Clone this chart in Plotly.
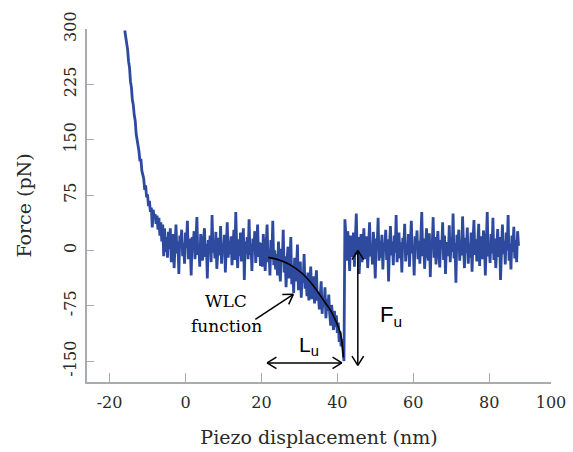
import numpy as np
import plotly.graph_objects as go

# ---------------- data ----------------
step = 0.25  # nm between samples

approach_x0 = -16.0
approach_f = [298, 290, 279, 272, 256, 248, 229, 221, 204, 197, 183, 176, 158, 151, 139, 134,
              121, 124, 108, 104, 97, 82, 88, 72, 76, 60, 67, 52, 58, 31, 55, 44, 49, 36, 47,
              28, 44, 20, 38, 12, 35, -8, 30, -2]

baseline_x0 = -5.0
baseline_f = [18, -10, 25, 2, 30, -16, 14, 22, -24, 9, 35, -4, 12, -32, 20, 6, 28, -8, 10, -18,
              24, 3, 40, -12, 16, 5, -34, 18, 1, 26, -12, 12, 45, -6, 8, -22, 22, 4, -14, 15,
              30, -9, 9, -38, 14, 2, 20, -16, 48, -3, 11, -11, 25, -25, 6, 17, -7, 33, -18, 8,
              -2, 21, -30, 10, 38, -10, 13, -5, 19, -20, 5, 28, -13, 52, 3, -24, 15, -8, 24, -15,
              7, 30, -40, 12, -4, 18, -12, 42, -6, 9, -28, 16, 0, 26, -17, 6, 35, -9, 11, -21]

stretch_x0 = 20.0
stretch_f = [10, -22, 22, -4, -28, 8, 35, -16, 2, -34, 14, -12, 40, -20, 0, -26,
             -5, -34, 12, -24, -42, 2, -16, 28, -30, -8, -50, -14, 5, -38, -18, 18,
             -46, -20, -58, -10, -42, -25, 8, -54, -28, -15, -64, -30, -44, -5, -52, -34,
             -62, -30, -68, -40, -22, -66, -44, -35, -72, -48, -27, -68,
             -58, -80, -58, -42, -86, -64, -76, -50, -92, -66, -82, -60,
             -86, -102, -74, -96, -108, -82, -104, -88,
             -112, -98, -124, -110,
             -130, -120, -142, -150]

post_x0 = 42.0
post_f = [42, 22, -14, 26, 8, -28, 20, 15, -9, 24, -22, 10, 50, -6, 18, -32, 6, 22, -16, 14,
          30, -12, 4, 19, -24, 12, 38, -8, 9, -19, 25, 2, -38, 16, 7, 44, -14, 13, -10, 21,
          -26, 10, 3, 28, -13, 15, -42, 6, 33, -7, 12, -20, 20, -3, 48, -16, 8, 24, -11, 11,
          -30, 17, 4, 36, -15, 9, -6, 22, -22, 14, 40, -4, 7, -34, 19, 5, 27, -12, 13, -18,
          10, 52, -8, 16, -25, 8, 30, -2, -14, 23, -36, 12, 6, 45, -10, 18, -19, 9, 26, -5,
          -23, 14, 3, 38, -13, 20, -32, 7, 11, -8, 34, -16, 16, -2, 50, -11, 10, -44, 21, 5,
          28, -14, 13, -7, 46, 8, -24, 17, -3, 31, -18, 9, -10, 24, -29, 12, 41, -6, 15, -15,
          6, 36, -21, 19, 3, -12, 27, 10, -34, 14, 52, -8, 8, -17, 22, -4, 44, -13, 16, -24,
          11, 29, -9, 18, -40, 7, 35, -5, 13, -19, 24, 0, 48, -14, 9, -26, 20, -2, 32, -11,
          14, -16, 26, 6]

wlc_x = [21.8, 24.7, 27.7, 30.7, 32.9, 34.7, 36.7, 38.2, 39.7, 40.8, 41.3, 41.6]
wlc_f = [-9.5, -13, -20, -31, -43, -55, -70, -81, -97, -112, -128, -145]

x_tickvals = [-20, 0, 20, 40, 60, 80, 96.3]
x_ticktext = ["-20", "0", "20", "40", "60", "80", "100"]
y_tickvals = [-150, -75, 0, 75, 150, 225, 300]
y_ticktext = ["-150", "-75", "0", "75", "150", "225", "300"]

# ---------------- layout constants ----------------
W, H = 573, 452
M = dict(l=87, r=22, t=29, b=70)
X_RANGE = [-25.95, 96.3]
Y_RANGE = [-178.4, 300]
AXIS_COLOR = "#A8ACB2"
TRACE_COLOR = "#2E4A9E"
SERIF = "DejaVu Serif"
SANS = "Liberation Sans"
TXT = "#2a2a2a"

sx = (W - M["l"] - M["r"]) / (X_RANGE[1] - X_RANGE[0])
sy = (H - M["t"] - M["b"]) / (Y_RANGE[1] - Y_RANGE[0])


def segment_x(x0, vals):
    return [x0 + step * i for i in range(len(vals))]


xs, fs = [], []
for x0, vals in [(approach_x0, approach_f), (baseline_x0, baseline_f),
                 (stretch_x0, stretch_f), (post_x0, post_f)]:
    xs += segment_x(x0, vals)
    fs += vals

fig = go.Figure()
fig.add_trace(go.Scatter(x=xs, y=fs, mode="lines",
                         line=dict(color=TRACE_COLOR, width=2.8), hoverinfo="skip",
                         showlegend=False))
fig.add_trace(go.Scatter(x=wlc_x, y=wlc_f, mode="lines",
                         line=dict(color="black", width=1.6, shape="spline"),
                         hoverinfo="skip", showlegend=False))

shapes = []


def head(xt, yt, xf, yf, length=11, ang=32):
    # open chevron head at (xt, yt), coming from (xf, yf)
    dx = (xt - xf) * sx
    dy = (yt - yf) * sy
    n = np.hypot(dx, dy)
    ux, uy = -dx / n, -dy / n
    for a in (ang, -ang):
        r = np.radians(a)
        rx = ux * np.cos(r) - uy * np.sin(r)
        ry = ux * np.sin(r) + uy * np.cos(r)
        shapes.append(dict(type="line", xref="x", yref="y",
                           x0=xt, y0=yt, x1=xt + length * rx / sx, y1=yt + length * ry / sy,
                           line=dict(color="black", width=1.5)))


def arrow(x0, y0, x1, y1, both=False):
    shapes.append(dict(type="line", xref="x", yref="y", x0=x0, y0=y0, x1=x1, y1=y1,
                       line=dict(color="black", width=1.5)))
    head(x1, y1, x0, y0)
    if both:
        head(x0, y0, x1, y1)


arrow(18.4, -93.5, 28.4, -59.6)            # WLC pointer
arrow(21.5, -152.5, 41.2, -152.5, True)     # L_u
arrow(45.4, 0, 45.4, -155.9, True)          # F_u

annotations = [
    dict(x=10.8, y=-68, xref="x", yref="y", text="WLC", showarrow=False,
         font=dict(family=SERIF, size=17, color="black")),
    dict(x=10.8, y=-102, xref="x", yref="y", text="function", showarrow=False,
         font=dict(family=SERIF, size=17, color="black")),
    dict(x=32.6, y=-129, xref="x", yref="y", text="L<sub>u</sub>", showarrow=False,
         font=dict(family=SANS, size=21, color="black")),
    dict(x=54.2, y=-89, xref="x", yref="y", text="F<sub>u</sub>", showarrow=False,
         font=dict(family=SANS, size=22, color="black")),
]

fig.update_layout(
    width=W, height=H, margin=M,
    paper_bgcolor="white", plot_bgcolor="white",
    shapes=shapes, annotations=annotations,
    xaxis=dict(range=X_RANGE, tickvals=x_tickvals, ticktext=x_ticktext, automargin=False,
               ticks="inside", ticklen=9, tickcolor=AXIS_COLOR, tickwidth=1.2,
               showline=True, linecolor=AXIS_COLOR, linewidth=1.5,
               showgrid=False, zeroline=False, ticklabelstandoff=5,
               tickfont=dict(family=SERIF, size=16, color=TXT),
               title=dict(text="Piezo displacement (nm)", standoff=20,
                          font=dict(family=SERIF, size=19, color=TXT))),
    yaxis=dict(range=Y_RANGE, tickvals=y_tickvals, ticktext=y_ticktext, automargin=False,
               ticks="inside", ticklen=7, tickcolor=AXIS_COLOR, tickwidth=1.2,
               showline=True, linecolor=AXIS_COLOR, linewidth=1.5,
               showgrid=False, zeroline=False, tickangle=-90, ticklabelstandoff=3,
               tickfont=dict(family=SERIF, size=16, color=TXT),
               title=dict(text="Force (pN)", standoff=24,
                          font=dict(family=SERIF, size=19, color=TXT))),
)

fig.write_html("out.html")
